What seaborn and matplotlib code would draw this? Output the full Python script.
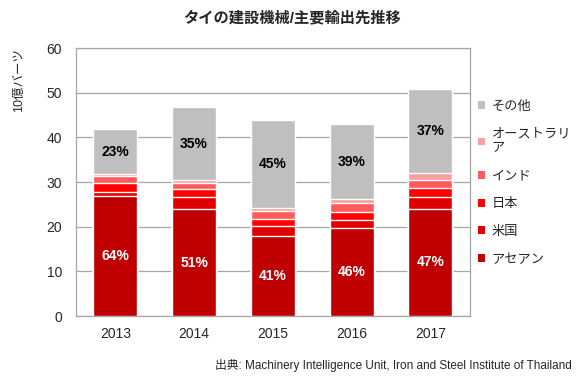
import matplotlib
matplotlib.use("Agg")
import matplotlib.pyplot as plt
import seaborn as sns
import numpy as np
import pandas as pd
from matplotlib.patches import Patch

years = ["2013", "2014", "2015", "2016", "2017"]
asean = [26.8, 23.9, 18.0, 19.8, 24.0]
usa = [0.9, 2.7, 2.1, 1.8, 2.6]
japan = [2.2, 1.8, 1.7, 1.7, 2.0]
india = [1.4, 1.5, 1.7, 2.0, 1.8]
australia = [0.6, 0.5, 0.6, 0.9, 1.6]
other = [9.9, 16.4, 19.7, 16.8, 18.8]

asean_pct = ["64%", "51%", "41%", "46%", "47%"]
other_pct = ["23%", "35%", "45%", "39%", "37%"]

series_names = ["アセアン", "米国", "日本", "インド", "オーストラリア", "その他"]
legend_labels = ["アセアン", "米国", "日本", "インド", "オーストラリ\nア", "その他"]
colors = ["#C00000", "#E00000", "#FF0000", "#FF5B5B", "#FF9F9F", "#BFBFBF"]

sns.set_style("white")
plt.rcParams['font.family'] = ['Liberation Sans', 'Noto Sans CJK JP', 'DejaVu Sans']

df = pd.DataFrame({"year": years, "アセアン": asean, "米国": usa, "日本": japan,
                   "インド": india, "オーストラリア": australia, "その他": other})
cum = df[series_names].cumsum(axis=1)

fig = plt.figure(figsize=(5.8, 3.79), dpi=100)
ax = fig.add_axes([0.131, 0.166, 0.679, 0.707])

for i in range(len(series_names) - 1, -1, -1):
    name = series_names[i]
    sns.barplot(x=df["year"], y=cum[name], color=colors[i], width=0.56,
                edgecolor="white", linewidth=1.0, ax=ax, saturation=1, zorder=3)

ax.set_ylim(0, 60)
ax.set_yticks(np.arange(0, 61, 10))
ax.yaxis.grid(True, color="#A6A6A6", linewidth=0.9, zorder=0)
ax.set_axisbelow(True)
for s in ax.spines.values():
    s.set_color("#A6A6A6")
    s.set_linewidth(0.9)
ax.tick_params(axis="y", which="major", length=4, color="#A6A6A6", labelsize=10, pad=6)
ax.tick_params(axis="x", length=0, labelsize=10, pad=8)
ax.set_xlabel("")
ax.set_ylabel("")
fig.text(0.033, 0.79, "10億バーツ", rotation=90, ha="center", va="center", fontsize=9)

for j in range(len(years)):
    ax.text(j, asean[j] / 2, asean_pct[j], ha="center", va="center", color="white",
            fontsize=10, fontweight="bold", zorder=5)
    base = cum["オーストラリア"].iloc[j]
    ax.text(j, base + other[j] / 2, other_pct[j], ha="center", va="center", color="black",
            fontsize=10, fontweight="bold", zorder=5)

handles = [Patch(facecolor=colors[i], edgecolor="none") for i in range(len(colors) - 1, -1, -1)]
labels = [legend_labels[i] for i in range(len(legend_labels) - 1, -1, -1)]
leg = fig.legend(handles, labels, loc="upper left", bbox_to_anchor=(0.815, 0.748),
                 frameon=False, fontsize=9.5, handlelength=0.55, handleheight=0.55,
                 handletextpad=0.5, labelspacing=1.2, borderaxespad=0)

fig.text(0.503, 0.952, "タイの建設機械/主要輸出先推移", ha="center", va="center",
         fontsize=11, fontweight="bold")
fig.text(0.985, 0.035, "出典: Machinery Intelligence Unit, Iron and Steel Institute of Thailand",
         ha="right", va="center", fontsize=8.5)

fig.savefig("out.png", dpi=100)
